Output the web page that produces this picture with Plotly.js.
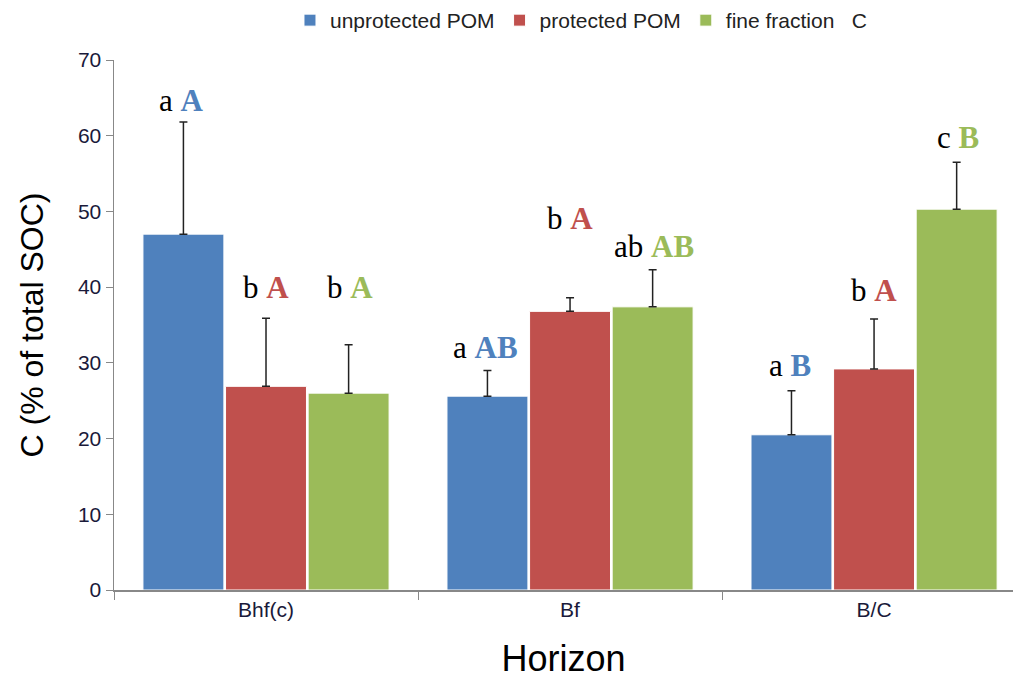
<!DOCTYPE html>
<html><head><meta charset="utf-8">
<script src="https://cdn.plot.ly/plotly-3.0.1.min.js"></script>
<style>html,body{margin:0;padding:0;background:#fff;}#chart{width:1015px;height:679px;}</style>
</head><body><div id="chart"></div>
<script>
const horizons = ["Bhf(c)", "Bf", "B/C"];
const seriesNames = ["unprotected POM", "protected POM", "fine fraction\u00a0\u00a0\u00a0C"];
const unprotected = [47.0, 25.6, 20.5];
const protectedPOM = [26.9, 36.8, 29.2];
const fineFraction = [26.0, 37.4, 50.3];
const errUnprotected = [14.8, 3.4, 5.8];
const errProtected = [9.0, 1.8, 6.6];
const errFine = [6.4, 4.9, 6.2];
const lowerLetters = [["a", "b", "b"], ["a", "b", "ab"], ["a", "b", "c"]];
const upperLetters = [["A", "A", "A"], ["AB", "A", "AB"], ["B", "A", "B"]];
const letterHeights = [[64.7, 39.9, 39.9], [32.0, 49.1, 45.4], [29.6, 39.5, 59.8]];

const colors = ["#4f81bd", "#c0504d", "#9bbb59"];
const values = [unprotected, protectedPOM, fineFraction];
const errs = [errUnprotected, errProtected, errFine];

const traces = values.map((v, i) => ({
  type: "bar", x: horizons, y: v, name: seriesNames[i],
  marker: {color: colors[i], line: {color: "#ffffff", width: 1}},
  error_y: {type: "data", symmetric: false, array: errs[i], arrayminus: errs[i].map(() => 0),
            color: "#222", thickness: 1.5, width: 4}
}));

const annotations = [];
const offsets = [-0.277, 0, 0.277];
horizons.forEach((h, g) => {
  for (let s = 0; s < 3; s++) {
    annotations.push({
      x: g + offsets[s], xref: "x", y: letterHeights[g][s], yref: "y",
      text: lowerLetters[g][s] + "\u00a0<b><span style='color:" + colors[s] + "'>" + upperLetters[g][s] + "</span></b>",
      showarrow: false, font: {family: "Liberation Serif", size: 31, color: "#000"},
      xanchor: "center", yanchor: "middle"
    });
  }
});

const layout = {
  width: 1015, height: 679,
  font: {family: "Liberation Sans", size: 20, color: "#1a1a3a"},
  margin: {l: 114, r: 2, t: 60, b: 89},
  paper_bgcolor: "#fff", plot_bgcolor: "#fff",
  barmode: "group", bargap: 0.185, bargroupgap: 0.02,
  showlegend: true,
  legend: {orientation: "h", x: 0.52, xanchor: "center", xref: "paper", y: 1.0, yref: "container", yanchor: "top",
           font: {family: "Liberation Sans", size: 21, color: "#222"}, itemwidth: 30,
           tracegroupgap: 0},
  xaxis: {type: "category", range: [-0.5, 2.457], tickson: "boundaries", ticks: "outside", ticklen: 8,
          tickcolor: "#888", showline: true, linecolor: "#888", linewidth: 1.5, showgrid: false,
          tickfont: {family: "Liberation Sans", size: 21, color: "#1a1a3a"},
          title: {text: "Horizon", font: {family: "Liberation Sans", size: 36, color: "#000"}, standoff: 26}},
  yaxis: {range: [0, 70], dtick: 10, ticks: "outside", ticklen: 7, tickcolor: "#888",
          showline: true, linecolor: "#888", linewidth: 1.5, showgrid: false, zeroline: false,
          tickfont: {family: "Liberation Sans", size: 21, color: "#1a1a3a"},
          title: {text: "C (% of total SOC)", font: {family: "Liberation Sans", size: 32, color: "#000"}, standoff: 24}},
  annotations: annotations
};

Plotly.newPlot("chart", traces, layout, {displayModeBar: false, staticPlot: true});
</script></body></html>
